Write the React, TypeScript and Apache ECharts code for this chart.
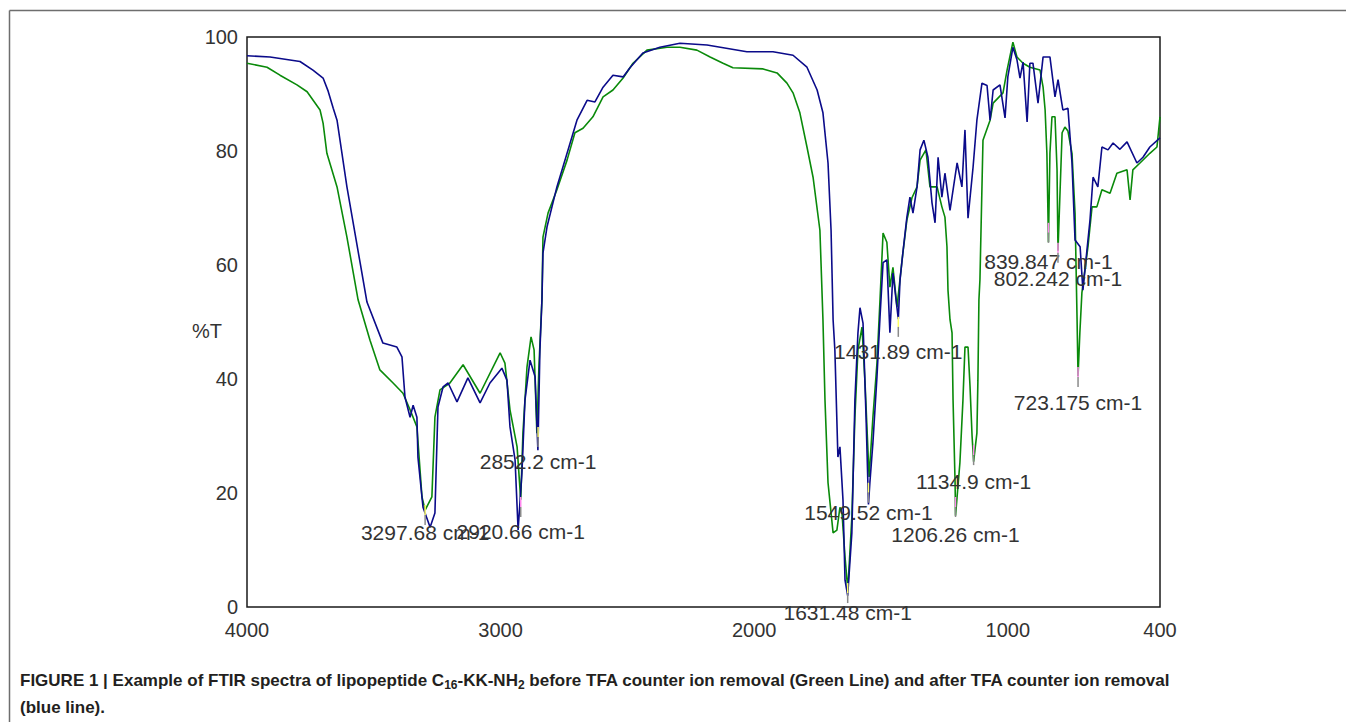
import React, { useEffect, useRef } from "react";
import * as echarts from "echarts";

// Wavenumber (cm-1), %T — after TFA removal (blue line)
const blueWavenumbers = [
  4000, 3909, 3791, 3740, 3700, 3680, 3660, 3645, 3606, 3554, 3527, 3464, 3409, 3389, 3377, 3357, 3345, 3330, 3326,
  3306, 3278, 3259, 3247, 3227, 3207, 3172, 3129, 3081, 3042, 2995, 2975, 2963, 2943, 2931, 2916, 2904, 2884,
  2864, 2853, 2845, 2837, 2833, 2817, 2778, 2738, 2699, 2659, 2628, 2596, 2557, 2517, 2490, 2439, 2372, 2293,
  2186, 2029, 1926, 1847, 1792, 1752, 1729, 1709, 1697, 1689, 1682, 1670, 1662, 1650, 1642, 1631.48, 1615, 1603,
  1591, 1583, 1571, 1559, 1549.52, 1544, 1532, 1516, 1504, 1492, 1477, 1465, 1453, 1441, 1431.89, 1425, 1414,
  1398, 1386, 1374, 1358, 1346, 1331, 1315, 1299, 1287, 1275, 1260, 1248, 1228, 1200, 1181, 1169, 1157, 1137,
  1122, 1102, 1082, 1070, 1058, 1031, 1011, 1000, 980, 964, 952, 940, 924, 913, 901, 881, 861, 834, 814, 802,
  783, 763, 747, 735, 715, 704, 676, 664, 645, 629, 605, 585, 558, 530, 491, 467, 440, 400,
];
const blueValues = [
  96.7, 96.5, 95.7, 94.2, 92.8, 90.5, 87.5, 85.4, 73.7, 60.4, 53.5, 46.3, 45.6, 43.9, 36.8, 33.3, 35.4, 33.3, 26.3,
  17.5, 14.0, 16.5, 35.1, 38.6, 39.3, 36.0, 40.2, 35.8, 39.3, 41.9, 39.8, 31.6, 25.8, 13.5, 23.5, 36.3, 43.3,
  40.4, 27.5, 45.1, 53.9, 62.1, 66.7, 73.7, 79.6, 85.4, 88.9, 88.6, 91.2, 93.3, 93.0, 94.6, 97.2, 98.2, 98.9,
  98.6, 97.4, 97.4, 96.8, 94.7, 90.7, 86.7, 77.9, 66.1, 50.4, 45.1, 26.3, 28.1, 18.8, 4.7, 2.0, 13.0, 36.3,
  48.1, 52.5, 49.8, 33.3, 18.0, 21.8, 28.8, 40.4, 50.9, 60.4, 60.9, 48.1, 58.6, 54.0, 50.5, 57.4, 62.1,
  68.4, 71.9, 69.1, 73.7, 80.2, 81.9, 78.9, 70.9, 67.4, 78.9, 71.9, 76.1, 69.6, 77.9, 73.7, 83.7, 68.2, 77.2,
  85.4, 91.9, 91.5, 85.4, 90.7, 91.6, 85.8, 93.0, 98.2, 96.0, 92.8, 95.6, 85.1, 95.4, 95.4, 88.4, 96.5, 96.5, 89.5, 92.5,
  87.2, 87.5, 77.9, 64.4, 63.2, 55.6, 67.9, 75.4, 73.7, 80.7, 80.2, 81.4, 80.3, 81.6, 77.9, 78.9, 80.7, 82.3,
];

// Wavenumber (cm-1), %T — before TFA removal (green line)
const greenWavenumbers = [
  4000, 3921, 3870, 3803, 3763, 3712, 3700, 3685, 3645, 3606, 3562, 3515, 3476, 3424, 3385, 3357, 3330, 3310,
  3297.68, 3271, 3259, 3239, 3200, 3148, 3081, 3002, 2983, 2963, 2935, 2920.66, 2912, 2896, 2880, 2868, 2857, 2849,
  2837, 2833, 2813, 2778, 2738, 2707, 2675, 2636, 2596, 2557, 2517, 2478, 2423, 2344, 2293, 2226, 2174, 2123,
  2084, 1965, 1910, 1871, 1847, 1820, 1792, 1768, 1741, 1729, 1721, 1709, 1689, 1674, 1662, 1654, 1642, 1631,
  1615, 1603, 1591, 1575, 1563, 1547, 1532, 1516, 1504, 1492, 1477, 1465, 1453, 1437, 1417, 1398, 1378, 1358,
  1346, 1323, 1307, 1279, 1260, 1248, 1240, 1236, 1228, 1220, 1216, 1208, 1206.26, 1189, 1177, 1169, 1157, 1149,
  1141, 1134.9, 1122, 1118, 1114, 1110, 1098, 1070, 1058, 1019, 1003, 980, 964, 940, 913, 873, 861, 853, 846,
  839.847, 834, 826, 814, 806, 802.242, 786, 775, 763, 747, 735, 727, 723.175, 716, 708, 684, 668, 649, 629, 597,
  570, 530, 518, 507, 479, 440, 412, 400,
];
const greenValues = [
  95.4, 94.7, 93.3, 91.6, 90.4, 87.2, 84.9, 79.6, 73.7, 64.9, 53.9, 46.8, 41.6, 39.3, 37.5, 34.6, 31.6, 19.3,
  17.0, 19.3, 33.3, 38.1, 39.3, 42.5, 37.5, 44.6, 42.8, 34.6, 28.1, 18.8, 30.5, 42.1, 47.4, 45.1, 30.5, 42.1,
  53.9, 64.9, 69.1, 73.2, 78.4, 83.2, 84.0, 86.0, 89.5, 90.7, 92.8, 95.4, 97.7, 98.2, 98.2, 97.7, 96.5, 95.4,
  94.6, 94.4, 93.7, 91.9, 90.2, 86.7, 80.7, 75.4, 66.1, 50.4, 36.3, 21.8, 13.0, 13.5, 17.5, 16.5, 8.8, 3.0,
  15.8, 33.3, 45.1, 49.1, 39.3, 22.8, 33.3, 42.8, 53.9, 65.6, 64.0, 56.1, 59.6, 52.6, 60.9, 67.9, 71.8, 73.7,
  78.4, 80.2, 73.7, 73.7, 70.2, 68.4, 63.2, 55.6, 50.4, 48.1, 36.3, 21.8, 16.0, 25.3, 36.3, 45.6, 45.6, 38.6,
  30.0, 25.5, 30.5, 39.8, 53.9, 57.4, 81.9, 85.4, 88.4, 90.2, 94.2, 99.1, 96.5, 95.4, 94.7, 94.2, 91.2, 87.2, 79.6,
  64.0, 79.6, 86.0, 86.0, 76.7, 62.5, 83.2, 84.2, 83.5, 79.6, 69.1, 50.4, 40.5, 48.1, 55.1, 63.2, 70.2, 70.2, 73.2, 72.6,
  76.1, 76.7, 71.4, 76.7, 77.9, 79.6, 80.7, 86.0,
];

// Peak annotations
const peakLabels = [
  "3297.68 cm-1", "2920.66 cm-1", "2852.2 cm-1", "1631.48 cm-1", "1549.52 cm-1", "1431.89 cm-1",
  "1206.26 cm-1", "1134.9 cm-1", "839.847 cm-1", "802.242 cm-1", "723.175 cm-1",
];
const peakWavenumbers = [3297.68, 2920.66, 2852.2, 1631.48, 1549.52, 1431.89, 1206.26, 1134.9, 839.847, 802.242, 723.175];
const peakTopValues = [17.9, 19.3, 31.6, 4.2, 21.8, 50.9, 19.3, 28.4, 67.4, 63.9, 42.1];
const peakLabelValues = [13.0, 13.2, 25.6, -1.05, 16.5, 44.9, 12.8, 22.1, 60.7, 57.7, 35.8];
const peakKinds = ["y", "p", "y", "y", "y", "y", "p", "p", "p", "p", "p"];

const xTickLabels = [4000, 3000, 2000, 1000, 400];

const FONT = "'Liberation Sans', Arial, Helvetica, sans-serif";
const CAPTION_FONT = "'Liberation Sans Narrow', 'Arial Narrow', 'Liberation Sans', Arial, sans-serif";

export default function App() {
  const ref = useRef<HTMLDivElement>(null);

  useEffect(() => {
    if (!ref.current) return;
    const chart = echarts.init(ref.current, undefined, { renderer: "svg" });

    const blueData = blueWavenumbers.map((w, i) => [w, blueValues[i]]);
    const greenData = greenWavenumbers.map((w, i) => [w, greenValues[i]]);
    const peakData = peakWavenumbers.map((w, i) => [w, peakTopValues[i], peakLabelValues[i], i]);

    chart.setOption({
      animation: false,
      backgroundColor: "#ffffff",
      grid: {
        left: 247,
        right: 186,
        top: 37,
        bottom: 115,
        show: true,
        borderColor: "#1a1a1a",
        borderWidth: 1.5,
        backgroundColor: "transparent",
      },
      xAxis: {
        type: "value",
        min: 400,
        max: 4000,
        inverse: true,
        axisLine: { show: false },
        axisTick: { show: false },
        splitLine: { show: false },
        axisLabel: {
          customValues: xTickLabels,
          formatter: (v: number) => String(v),
          color: "#333",
          fontSize: 20,
          fontFamily: FONT,
          margin: 13,
          showMinLabel: true,
          showMaxLabel: true,
        },
      },
      yAxis: {
        type: "value",
        min: 0,
        max: 100,
        interval: 20,
        axisLine: { show: false },
        axisTick: { show: false },
        splitLine: { show: false },
        axisLabel: { color: "#333", fontSize: 20, fontFamily: FONT, margin: 9 },
      },
      series: [
        {
          type: "line",
          name: "Before TFA removal",
          data: greenData,
          showSymbol: false,
          lineStyle: { color: "#0a8a0a", width: 1.6 },
          itemStyle: { color: "#0a8a0a" },
          z: 2,
        },
        {
          type: "line",
          name: "After TFA removal",
          data: blueData,
          showSymbol: false,
          lineStyle: { color: "#0b0b8a", width: 1.6 },
          itemStyle: { color: "#0b0b8a" },
          z: 3,
        },
        {
          type: "custom",
          data: peakData,
          encode: { x: 0, y: 1 },
          z: 5,
          clip: false,
          renderItem: (params: any, api: any) => {
            const w = api.value(0);
            const top = api.value(1);
            const lab = api.value(2);
            const idx = api.value(3);
            const p = api.coord([w, top]);
            const q = api.coord([w, lab]);
            const kindColor = peakKinds[idx] === "y" ? "#ffff66" : "#ff88ee";
            return {
              type: "group",
              children: [
                {
                  type: "line",
                  shape: { x1: p[0], y1: p[1], x2: p[0], y2: p[1] + 10 },
                  style: { stroke: kindColor, lineWidth: 1.5 },
                },
                {
                  type: "line",
                  shape: { x1: p[0], y1: p[1] + 10, x2: p[0], y2: p[1] + 20 },
                  style: { stroke: "#8a8a8a", lineWidth: 1.5 },
                },
                {
                  type: "text",
                  x: q[0],
                  y: q[1],
                  style: {
                    text: peakLabels[idx],
                    fill: "#333",
                    font: `21px ${FONT}`,
                    align: "center",
                    verticalAlign: "middle",
                  },
                },
              ],
            };
          },
        },
      ],
      graphic: [
        {
          type: "line",
          shape: { x1: 9.5, y1: 10.5, x2: 1346, y2: 10.5 },
          style: { stroke: "#6e6e6e", lineWidth: 1.5 },
          silent: true,
        },
        {
          type: "line",
          shape: { x1: 9.5, y1: 10.5, x2: 9.5, y2: 722 },
          style: { stroke: "#6e6e6e", lineWidth: 1.5 },
          silent: true,
        },
        {
          type: "text",
          x: 192,
          y: 331,
          style: { text: "%T", fill: "#333", font: `20px ${FONT}`, verticalAlign: "middle", align: "left" },
        },
        {
          type: "text",
          x: 20,
          y: 680,
          style: {
            text:
              "{b|FIGURE 1 | Example of FTIR spectra of lipopeptide C}{s|16}{b|-KK-NH}{s|2}{b| before TFA counter ion removal (Green Line) and after TFA counter ion removal}",
            verticalAlign: "middle",
            align: "left",
            rich: {
              b: {
                fontFamily: CAPTION_FONT,
                fontWeight: "bold",
                fontSize: 17,
                lineHeight: 22,
                fill: "#231f20",
                verticalAlign: "middle",
              },
              s: {
                fontFamily: CAPTION_FONT,
                fontWeight: "bold",
                fontSize: 12,
                lineHeight: 13,
                fill: "#231f20",
                verticalAlign: "bottom",
              },
            },
          },
        },
        {
          type: "text",
          x: 20,
          y: 707,
          style: {
            text: "(blue line).",
            fill: "#231f20",
            font: `bold 17px ${CAPTION_FONT}`,
            verticalAlign: "middle",
            align: "left",
          },
        },
      ],
    });

    return () => chart.dispose();
  }, []);

  return (
    <div
      ref={ref}
      style={{ position: "fixed", left: 0, top: 0, width: 1346, height: 722, background: "#fff" }}
    />
  );
}
